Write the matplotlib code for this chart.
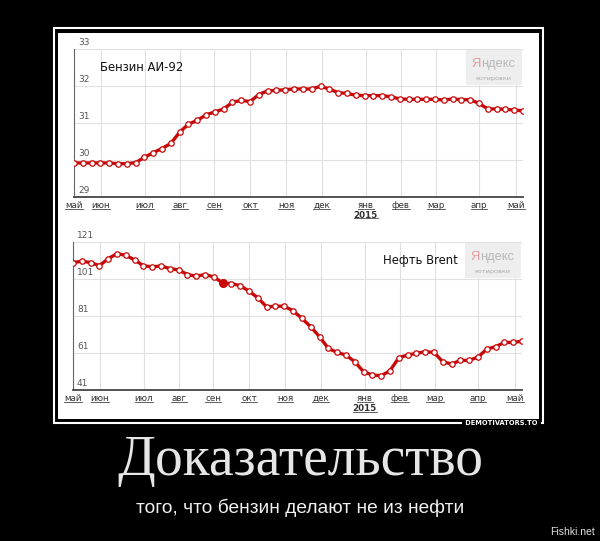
import matplotlib
import numpy as np

matplotlib.use("Agg")
from matplotlib import pyplot as plt
from matplotlib.lines import Line2D
from matplotlib.patches import Rectangle
from matplotlib.transforms import IdentityTransform

# weekly prices, May 2014 - May 2015
petrol_ai92 = [
    29.92, 29.92, 29.92, 29.92, 29.92, 29.90, 29.90, 29.93, 30.07, 30.20,
    30.31, 30.45, 30.75, 30.97, 31.07, 31.22, 31.30, 31.38, 31.56, 31.61,
    31.58, 31.77, 31.87, 31.88, 31.90, 31.92, 31.92, 31.92, 31.99, 31.92,
    31.82, 31.80, 31.75, 31.74, 31.74, 31.74, 31.71, 31.65, 31.64, 31.64,
    31.64, 31.64, 31.62, 31.65, 31.63, 31.63, 31.53, 31.38, 31.38, 31.37,
    31.35, 31.33,
]
brent = [
    109.9, 110.6, 109.9, 108.2, 112.0, 114.7, 113.8, 111.3, 108.2, 107.5,
    108.1, 106.6, 105.9, 103.4, 102.5, 103.4, 102.1, 98.9, 98.5, 97.4,
    94.4, 90.8, 85.9, 86.3, 86.3, 83.8, 79.7, 75.2, 69.8, 63.5,
    61.3, 59.9, 56.3, 50.9, 49.1, 48.7, 51.4, 58.4, 59.9, 60.8,
    61.7, 61.3, 56.3, 55.0, 57.0, 57.0, 58.8, 63.1, 64.4, 66.7,
    66.7, 67.4,
]
brent_highlight = 17

month_labels = ["май", "июн", "июл", "авг", "сен", "окт", "ноя",
                "дек", "янв", "фев", "мар", "апр", "май"]
month_pos = [0.0, 0.060, 0.158, 0.236, 0.312, 0.392, 0.472,
             0.552, 0.650, 0.728, 0.806, 0.902, 0.984]
year_label = "2015"
year_index = 8

petrol_ticks = [29, 30, 31, 32, 33]
brent_ticks = [41, 61, 81, 101, 121]

LINE_RED = "#c80808"
W, H = 600, 541


def px_rect(x0, y0, x1, y1):
    # pixel box (top-left origin) -> figure fraction
    return (x0 / W, 1 - y1 / H, (x1 - x0) / W, (y1 - y0) / H)


def draw_chart(axis, values, yticks, title, title_xy, highlight=None):
    x = np.linspace(0, 1, len(values))
    axis.plot(x, values, color=LINE_RED, linewidth=2.4, zorder=3,
              marker="o", markersize=3.9, markerfacecolor="white",
              markeredgecolor=LINE_RED, markeredgewidth=0.9)
    if highlight is not None:
        axis.plot(x[highlight], values[highlight], "o", color=LINE_RED,
                  markersize=5.5, zorder=4)
    axis.set_xlim(0, 1)
    axis.set_ylim(yticks[0], yticks[-1])
    axis.set_yticks(yticks)
    axis.set_yticklabels([])
    axis.set_xticks(month_pos, month_labels)
    axis.tick_params(length=0, pad=3, labelsize=6.3, labelcolor="#333333")
    axis.grid(color="#e0e0e0", linewidth=0.8)
    axis.set_axisbelow(True)
    for side in ("top", "right"):
        axis.spines[side].set_visible(False)
    axis.spines["left"].set_color("#666666")
    axis.spines["bottom"].set_color("#444444")
    axis.spines["bottom"].set_linewidth(1.3)
    for value in yticks:
        axis.annotate(str(value), xy=(0, value), xycoords=("axes fraction", "data"),
                      xytext=(4, 2), textcoords="offset pixels", va="bottom",
                      fontsize=6.5, color="#555555", annotation_clip=False)
    axis.text(title_xy[0], title_xy[1], title, transform=axis.transAxes,
              fontsize=8.4, color="#111111", va="center", zorder=5)
    # Yandex quotes badge
    axis.add_patch(Rectangle((0.872, 0.757), 0.126, 0.236, transform=axis.transAxes,
                             facecolor="#eeeeee", edgecolor="none", zorder=1))
    first = axis.text(0.885, 0.9, "Я", transform=axis.transAxes, fontsize=9.3,
                      family="Liberation Sans", color="#e59a9a", va="center", zorder=2)
    axis.annotate("ндекс", xy=(1, 0.5), xycoords=first, va="center", ha="left",
                  fontsize=9.3, family="Liberation Sans", color="#b8b8b8", zorder=2)
    axis.text(0.935, 0.8, "котировки", transform=axis.transAxes, fontsize=4.6,
              color="#aaaaaa", ha="center", va="center", zorder=2)
    year = axis.annotate(year_label, xy=(month_pos[year_index], 0),
                         xycoords="axes fraction", xytext=(0, -14),
                         textcoords="offset pixels", ha="center", va="top",
                         fontsize=6.3, fontweight="bold", color="#333333")
    return list(axis.get_xticklabels()) + [year]


figure = plt.figure(figsize=(6, 5.41), dpi=100, facecolor="black")

# demotivator frame
outer = px_rect(54, 28, 543, 423)
inner = px_rect(58, 33, 539, 419)
figure.patches.append(Rectangle(outer[:2], *outer[2:], transform=figure.transFigure,
                                facecolor="none", edgecolor="white", linewidth=1.5,
                                zorder=-2))
figure.patches.append(Rectangle(inner[:2], *inner[2:], transform=figure.transFigure,
                                facecolor="white", edgecolor="none", zorder=-1))

top_axis = figure.add_axes(px_rect(74, 49, 523, 197))
bottom_axis = figure.add_axes(px_rect(73, 242, 522, 390))

labels = draw_chart(top_axis, petrol_ai92, petrol_ticks, "Бензин АИ-92", (0.058, 0.872))
labels += draw_chart(bottom_axis, brent, brent_ticks, "Нефть Brent", (0.69, 0.878),
                     highlight=brent_highlight)

# underline the month links
figure.canvas.draw()
renderer = figure.canvas.get_renderer()
for label in labels:
    box = label.get_window_extent(renderer)
    figure.add_artist(Line2D([box.x0, box.x1], [box.y0 + 1.5] * 2, transform=IdentityTransform(),
                             color="#444444", linewidth=0.6))

figure.text(540 / W, 1 - 423 / H, " DEMOTIVATORS.TO ", ha="right", va="center",
            fontsize=4.8, fontweight="bold", color="white",
            bbox=dict(facecolor="black", edgecolor="none", pad=0.6))

figure.text(0.5, 1 - 475 / H, "Доказательство", ha="center", va="baseline",
            fontsize=40, family="Liberation Serif", color="#e6e6e6")
figure.text(0.5, 1 - 513 / H, "того, что бензин делают не из нефти", ha="center",
            va="baseline", fontsize=13.8, family="Liberation Sans", color="#f0f0f0")
figure.text(595 / W, 1 - 535 / H, "Fishki.net", ha="right", va="baseline",
            fontsize=7.5, family="Liberation Sans", color="#e0e0e0")

figure.savefig("out.png", facecolor="black")
plt.close(figure)
